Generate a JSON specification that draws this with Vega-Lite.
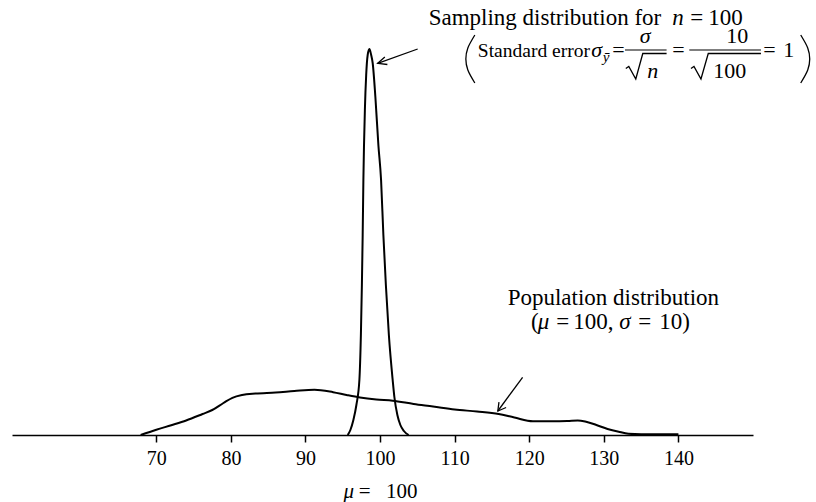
{
  "$schema": "https://vega.github.io/schema/vega-lite/v6.json",
  "width": 741,
  "height": 400,
  "autosize": {"type": "none"},
  "padding": {"left": 12, "top": 35, "right": 63, "bottom": 67},
  "background": "white",
  "config": {"view": {"stroke": null}},
  "datasets": {
    "population": [
      {"x": 67.9, "y": 0}, {"x": 70, "y": 0.0053}, {"x": 72, "y": 0.0098}, {"x": 74, "y": 0.0145},
      {"x": 76.2, "y": 0.021}, {"x": 77.5, "y": 0.025}, {"x": 79, "y": 0.032}, {"x": 80.2, "y": 0.0372},
      {"x": 81.5, "y": 0.04}, {"x": 83.3, "y": 0.0415}, {"x": 86, "y": 0.0425}, {"x": 88.5, "y": 0.044},
      {"x": 91.2, "y": 0.0453}, {"x": 93.7, "y": 0.0428}, {"x": 95.5, "y": 0.04}, {"x": 97.3, "y": 0.0375},
      {"x": 99.5, "y": 0.0355}, {"x": 101.7, "y": 0.0343}, {"x": 104.5, "y": 0.031}, {"x": 107.1, "y": 0.0285},
      {"x": 110, "y": 0.0255}, {"x": 113, "y": 0.0235}, {"x": 115.9, "y": 0.021}, {"x": 118, "y": 0.0175},
      {"x": 120.5, "y": 0.0138}, {"x": 123, "y": 0.0138}, {"x": 125.1, "y": 0.014}, {"x": 126.5, "y": 0.0145},
      {"x": 127.5, "y": 0.0135}, {"x": 129, "y": 0.01}, {"x": 130.5, "y": 0.006}, {"x": 132, "y": 0.0032},
      {"x": 133.3, "y": 0.0013}, {"x": 135, "y": 0.0008}, {"x": 140, "y": 0.0008}
    ],
    "sampling": [
      {"x": 95.657, "y": 0}, {"x": 96.019, "y": 0.005}, {"x": 96.421, "y": 0.015}, {"x": 96.823, "y": 0.03},
      {"x": 97.226, "y": 0.055}, {"x": 97.427, "y": 0.1}, {"x": 97.561, "y": 0.15}, {"x": 97.668, "y": 0.2},
      {"x": 97.762, "y": 0.255}, {"x": 97.963, "y": 0.325}, {"x": 98.137, "y": 0.36}, {"x": 98.338, "y": 0.38},
      {"x": 98.566, "y": 0.386}, {"x": 98.807, "y": 0.38}, {"x": 99.008, "y": 0.372}, {"x": 99.37, "y": 0.338},
      {"x": 99.772, "y": 0.29}, {"x": 100.134, "y": 0.255}, {"x": 100.442, "y": 0.2}, {"x": 100.777, "y": 0.15},
      {"x": 101.179, "y": 0.1}, {"x": 101.689, "y": 0.055}, {"x": 101.917, "y": 0.038}, {"x": 102.319, "y": 0.02},
      {"x": 102.721, "y": 0.01}, {"x": 103.19, "y": 0.004}, {"x": 103.833, "y": 0}
    ],
    "strokes": [
      {"id": "a1", "seq": 1, "x": 105.04, "y": 0.386}, {"id": "a1", "seq": 2, "x": 99.68, "y": 0.3717},
      {"id": "a1h", "seq": 1, "x": 100.64, "y": 0.378}, {"id": "a1h", "seq": 2, "x": 99.68, "y": 0.3717}, {"id": "a1h", "seq": 3, "x": 100.98, "y": 0.3705},
      {"id": "a2", "seq": 1, "x": 119.11, "y": 0.0577}, {"id": "a2", "seq": 2, "x": 115.79, "y": 0.024},
      {"id": "a2h", "seq": 1, "x": 116.9, "y": 0.0275}, {"id": "a2h", "seq": 2, "x": 115.79, "y": 0.024}, {"id": "a2h", "seq": 3, "x": 115.94, "y": 0.0329},
      {"id": "r1", "seq": 1, "x": 132.945, "y": 0.3665}, {"id": "r1", "seq": 2, "x": 133.347, "y": 0.3685}, {"id": "r1", "seq": 3, "x": 134.285, "y": 0.356}, {"id": "r1", "seq": 4, "x": 135.223, "y": 0.3815}, {"id": "r1", "seq": 5, "x": 138.413, "y": 0.3815},
      {"id": "r2", "seq": 1, "x": 141.683, "y": 0.3665}, {"id": "r2", "seq": 2, "x": 142.085, "y": 0.3685}, {"id": "r2", "seq": 3, "x": 143.024, "y": 0.356}, {"id": "r2", "seq": 4, "x": 144.002, "y": 0.3815}, {"id": "r2", "seq": 5, "x": 151.065, "y": 0.3815}
    ],
    "parens": [
      {"id": "L", "seq": 1, "x": 112.706, "y": 0.4}, {"id": "L", "seq": 2, "x": 111.768, "y": 0.387}, {"id": "L", "seq": 3, "x": 111.5, "y": 0.376}, {"id": "L", "seq": 4, "x": 111.768, "y": 0.365}, {"id": "L", "seq": 5, "x": 112.706, "y": 0.352},
      {"id": "R", "seq": 1, "x": 156.4, "y": 0.4}, {"id": "R", "seq": 2, "x": 157.338, "y": 0.387}, {"id": "R", "seq": 3, "x": 157.606, "y": 0.376}, {"id": "R", "seq": 4, "x": 157.338, "y": 0.365}, {"id": "R", "seq": 5, "x": 156.4, "y": 0.352}
    ],
    "bars": [
      {"x": 132.837, "x2": 138.413, "y": 0.385},
      {"x": 141.456, "x2": 151.065, "y": 0.385}
    ],
    "text23": [
      {"x": 106.514, "y": 0.41, "t": "Sampling distribution for"},
      {"x": 141.59, "y": 0.41, "t": "="},
      {"x": 144.002, "y": 0.41, "t": "100"},
      {"x": 117.102, "y": 0.13, "t": "Population distribution"},
      {"x": 120.239, "y": 0.106, "t": "("},
      {"x": 123.63, "y": 0.106, "t": "="},
      {"x": 125.908, "y": 0.106, "t": "100,"},
      {"x": 134.62, "y": 0.106, "t": "="},
      {"x": 137.435, "y": 0.106, "t": "10)"}
    ],
    "text22": [
      {"x": 131.135, "y": 0.378, "t": "="},
      {"x": 146.415, "y": 0.392, "t": "10"},
      {"x": 139.177, "y": 0.378, "t": "="},
      {"x": 144.672, "y": 0.3567, "t": "100"},
      {"x": 151.374, "y": 0.378, "t": "="},
      {"x": 154.054, "y": 0.378, "t": "1"}
    ],
    "text21": [
      {"x": 97.132, "y": -0.063, "t": "="},
      {"x": 100.804, "y": -0.063, "t": "100"}
    ],
    "textSmall": [
      {"x": 113.108, "y": 0.378, "t": "Standard error"}
    ],
    "italic23": [
      {"x": 139.177, "y": 0.41, "t": "n"},
      {"x": 121.15, "y": 0.106, "t": "μ"},
      {"x": 132.073, "y": 0.106, "t": "σ"}
    ],
    "italic22": [
      {"x": 128.32, "y": 0.378, "t": "σ"},
      {"x": 134.821, "y": 0.392, "t": "σ"},
      {"x": 135.826, "y": 0.3567, "t": "n"}
    ],
    "italic21": [
      {"x": 95.081, "y": -0.063, "t": "μ"}
    ],
    "sub": [
      {"x": 129.862, "y": 0.373, "t": "ȳ"}
    ]
  },
  "encoding": {
    "x": {"field": "x", "type": "quantitative",
      "scale": {"domain": [50.65, 150], "nice": false, "zero": false},
      "axis": {"values": [70, 80, 90, 100, 110, 120, 130, 140], "title": null, "grid": false,
        "labelFont": "Liberation Serif", "labelFontSize": 20, "labelColor": "black",
        "tickColor": "black", "tickSize": 7, "tickWidth": 1.5, "domainColor": "black", "domainWidth": 1.5,
        "labelPadding": 6, "labelFlush": false, "labelOverlap": false}},
    "y": {"field": "y", "type": "quantitative",
      "scale": {"domain": [0, 0.4], "nice": false, "zero": false}, "axis": null}
  },
  "layer": [
    {"data": {"name": "population"}, "mark": {"type": "line", "color": "black", "strokeWidth": 2, "interpolate": "monotone"}},
    {"data": {"name": "sampling"}, "mark": {"type": "line", "color": "black", "strokeWidth": 2, "interpolate": "monotone"}},
    {"data": {"name": "strokes"}, "mark": {"type": "line", "color": "black", "strokeWidth": 1.3},
      "encoding": {"detail": {"field": "id"}, "order": {"field": "seq"}}},
    {"data": {"name": "parens"}, "mark": {"type": "line", "color": "black", "strokeWidth": 1.3, "interpolate": "cardinal"},
      "encoding": {"detail": {"field": "id"}, "order": {"field": "seq"}}},
    {"data": {"name": "bars"}, "mark": {"type": "rule", "color": "black", "strokeWidth": 1.2},
      "encoding": {"x2": {"field": "x2"}}},
    {"data": {"name": "text23"}, "mark": {"type": "text", "align": "left", "baseline": "alphabetic", "font": "Liberation Serif", "fontSize": 23, "color": "black"},
      "encoding": {"text": {"field": "t"}}},
    {"data": {"name": "text22"}, "mark": {"type": "text", "align": "left", "baseline": "alphabetic", "font": "Liberation Serif", "fontSize": 22, "color": "black"},
      "encoding": {"text": {"field": "t"}}},
    {"data": {"name": "text21"}, "mark": {"type": "text", "align": "left", "baseline": "alphabetic", "font": "Liberation Serif", "fontSize": 21, "color": "black"},
      "encoding": {"text": {"field": "t"}}},
    {"data": {"name": "textSmall"}, "mark": {"type": "text", "align": "left", "baseline": "alphabetic", "font": "Liberation Serif", "fontSize": 19.5, "color": "black"},
      "encoding": {"text": {"field": "t"}}},
    {"data": {"name": "italic23"}, "mark": {"type": "text", "align": "left", "baseline": "alphabetic", "font": "Liberation Serif", "fontSize": 23, "fontStyle": "italic", "color": "black"},
      "encoding": {"text": {"field": "t"}}},
    {"data": {"name": "italic22"}, "mark": {"type": "text", "align": "left", "baseline": "alphabetic", "font": "Liberation Serif", "fontSize": 22, "fontStyle": "italic", "color": "black"},
      "encoding": {"text": {"field": "t"}}},
    {"data": {"name": "italic21"}, "mark": {"type": "text", "align": "left", "baseline": "alphabetic", "font": "Liberation Serif", "fontSize": 21, "fontStyle": "italic", "color": "black"},
      "encoding": {"text": {"field": "t"}}},
    {"data": {"name": "sub"}, "mark": {"type": "text", "align": "left", "baseline": "alphabetic", "font": "Liberation Serif", "fontSize": 15, "fontStyle": "italic", "color": "black"},
      "encoding": {"text": {"field": "t"}}}
  ]
}
